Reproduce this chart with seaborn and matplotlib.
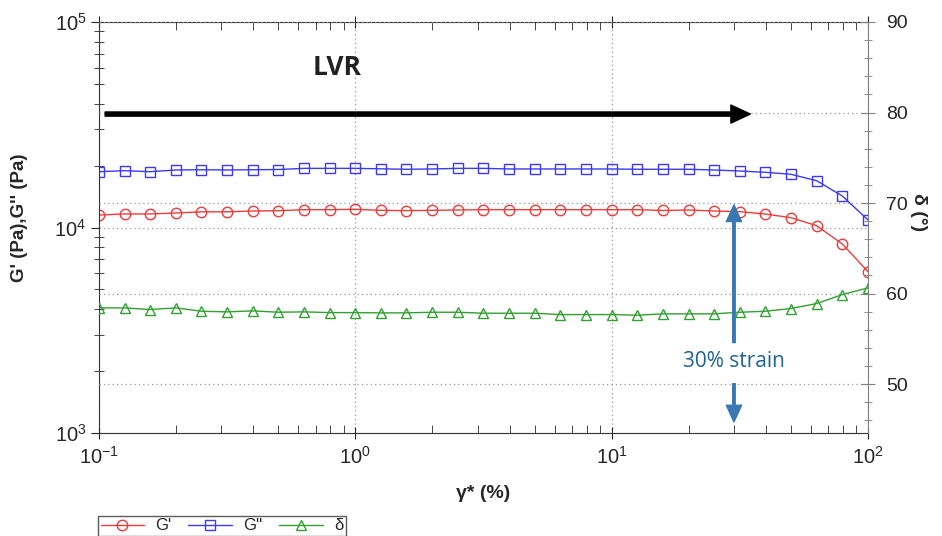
import matplotlib
matplotlib.use("Agg")
import matplotlib.pyplot as plt
import matplotlib.ticker as mticker
import seaborn as sns
import pandas as pd

# strain sweep, 10 points per decade
strain = [0.1, 0.126, 0.158, 0.2, 0.251, 0.316, 0.398, 0.501, 0.631, 0.794,
          1.0, 1.26, 1.58, 2.0, 2.51, 3.16, 3.98, 5.01, 6.31, 7.94,
          10.0, 12.6, 15.8, 20.0, 25.1, 31.6, 39.8, 50.1, 63.1, 79.4, 100.0]
g_storage = [11500, 11640, 11640, 11765, 11920, 11920, 12030, 12070, 12210, 12210,
             12260, 12120, 12080, 12120, 12170, 12210, 12210, 12210, 12210, 12210,
             12210, 12210, 12100, 12170, 12030, 11940, 11630, 11160, 10200, 8310, 6095]
g_loss = [18690, 18900, 18690, 19050, 19100, 19050, 19100, 19150, 19400, 19400,
          19400, 19300, 19200, 19270, 19400, 19400, 19270, 19270, 19270, 19270,
          19270, 19200, 19200, 19200, 19050, 18830, 18560, 18150, 16890, 14230, 10880]
delta = [58.42, 58.42, 58.24, 58.42, 58.05, 57.98, 58.09, 57.94, 57.98, 57.90,
         57.90, 57.87, 57.87, 57.94, 57.94, 57.83, 57.83, 57.83, 57.68, 57.68,
         57.68, 57.61, 57.76, 57.76, 57.76, 57.94, 58.05, 58.35, 58.90, 59.89, 60.63]
strain_mark = 30

df = pd.DataFrame({"strain": strain, "G'": g_storage, "G''": g_loss, "delta": delta})

sns.set_style("ticks")
plt.rcParams["font.family"] = ["Liberation Sans", "DejaVu Sans"]
plt.rcParams["mathtext.fontset"] = "custom"
plt.rcParams["mathtext.rm"] = "Liberation Sans"
plt.rcParams["mathtext.it"] = "Liberation Sans"
plt.rcParams["mathtext.default"] = "regular"

fig = plt.figure(figsize=(9.42, 5.36), dpi=100)
ax = fig.add_axes([99 / 942, 1 - 433 / 536, 769 / 942, 411 / 536])
ax2 = ax.twinx()

red, blue, green = "#f03a3a", "#3a3af5", "#30a030"
mk = dict(markersize=7.5, markerfacecolor="none", markeredgewidth=1.0, linewidth=1.0)

sns.lineplot(data=df, x="strain", y="G'", ax=ax, color=red, marker="o",
             markeredgecolor=red, label="G'", **mk)
sns.lineplot(data=df, x="strain", y="G''", ax=ax, color=blue, marker="s",
             markeredgecolor=blue, label="G''", **mk)
sns.lineplot(data=df, x="strain", y="delta", ax=ax2, color=green, marker="^",
             markeredgecolor=green, label="δ", **mk)

ax.set_xscale("log")
ax.set_yscale("log")
ax.set_xlim(0.1, 100)
ax.set_ylim(1e3, 1e5)
ax2.set_ylim(44.6, 90)
ax2.yaxis.set_major_locator(mticker.MultipleLocator(10))
ax2.yaxis.set_minor_locator(mticker.MultipleLocator(2))

grid_kw = dict(color="#999999", linestyle=(0, (1, 2.5)), linewidth=0.9)
ax.grid(True, which="major", axis="both", **grid_kw)
ax2.grid(True, which="major", axis="y", **grid_kw)
ax2.set_axisbelow(True)

# spines
for s in ["left", "bottom", "top"]:
    ax.spines[s].set_color("#333333")
    ax2.spines[s].set_visible(False)
ax.spines["right"].set_visible(False)
ax2.spines["right"].set_color("#808080")

ax.tick_params(axis="x", which="major", direction="inout", length=9, top=True,
               labelsize=14.5, pad=5)
ax.tick_params(axis="x", which="minor", direction="in", length=6, top=True)
ax.tick_params(axis="y", which="major", direction="out", length=6, labelsize=14.5, pad=3)
ax.tick_params(axis="y", which="minor", direction="inout", length=7)
ax2.tick_params(axis="y", which="major", direction="inout", length=10,
                color="#808080", labelsize=14, pad=8)
ax2.tick_params(axis="y", which="minor", direction="inout", length=6, color="#808080")

ax.set_xlabel("γ* (%)", fontsize=14, fontweight="bold")
ax.set_ylabel("G' (Pa),G'' (Pa)", fontsize=13.5, fontweight="bold")
ax2.set_ylabel("δ (°)", fontsize=14, fontweight="bold", rotation=270)
ax.xaxis.label.set_va("center")
ax.yaxis.label.set_va("center")
ax2.yaxis.label.set_va("center")
ax.xaxis.set_label_coords(0.5, (433 - 493) / 411)
ax.yaxis.set_label_coords((20 - 99) / 769, (433 - 218) / 411)
ax2.yaxis.set_label_coords((918 - 99) / 769, (433 - 212) / 411)

# LVR arrow
ax2.annotate("", xy=(0.847, 0.776), xytext=(0.008, 0.776),
             xycoords="axes fraction", textcoords="axes fraction",
             arrowprops=dict(facecolor="black", edgecolor="black",
                             width=3, headwidth=13, headlength=14, shrink=0))
ax2.text(0.309, 0.89, "LVR", transform=ax2.transAxes, ha="center", va="center",
         fontsize=19, fontweight="bold", family=["Open Sans", "DejaVu Sans"],
         color="#222222")

# 30% strain marker
arrow_blue = "#3a78b4"
ax2.annotate("", xy=(strain_mark, 0.555), xytext=(strain_mark, 0.22),
             xycoords=("data", "axes fraction"), textcoords=("data", "axes fraction"),
             arrowprops=dict(facecolor=arrow_blue, edgecolor=arrow_blue,
                             width=1.8, headwidth=11, headlength=12, shrink=0))
ax2.annotate("", xy=(strain_mark, 0.027), xytext=(strain_mark, 0.12),
             xycoords=("data", "axes fraction"), textcoords=("data", "axes fraction"),
             arrowprops=dict(facecolor=arrow_blue, edgecolor=arrow_blue,
                             width=1.8, headwidth=11, headlength=12, shrink=0))
ax2.annotate("30% strain", xy=(strain_mark, 0.173),
             xycoords=("data", "axes fraction"), ha="center", va="center",
             fontsize=15, color="#1f6397", family=["Open Sans", "DejaVu Sans"])

# legend, sitting at the bottom edge like the original
h1, l1 = ax.get_legend_handles_labels()
h2, l2 = ax2.get_legend_handles_labels()
ax.get_legend().remove()
ax2.get_legend().remove()
fig.legend(h1 + h2, l1 + l2, loc="upper left", bbox_to_anchor=(98 / 942, 1 - 516 / 536),
           ncol=3, frameon=True, fancybox=False, edgecolor="#333333", fontsize=12,
           handlelength=2.6, columnspacing=1.0, handletextpad=0.7, borderaxespad=0,
           borderpad=0.15)

fig.savefig("out.png", dpi=100)
